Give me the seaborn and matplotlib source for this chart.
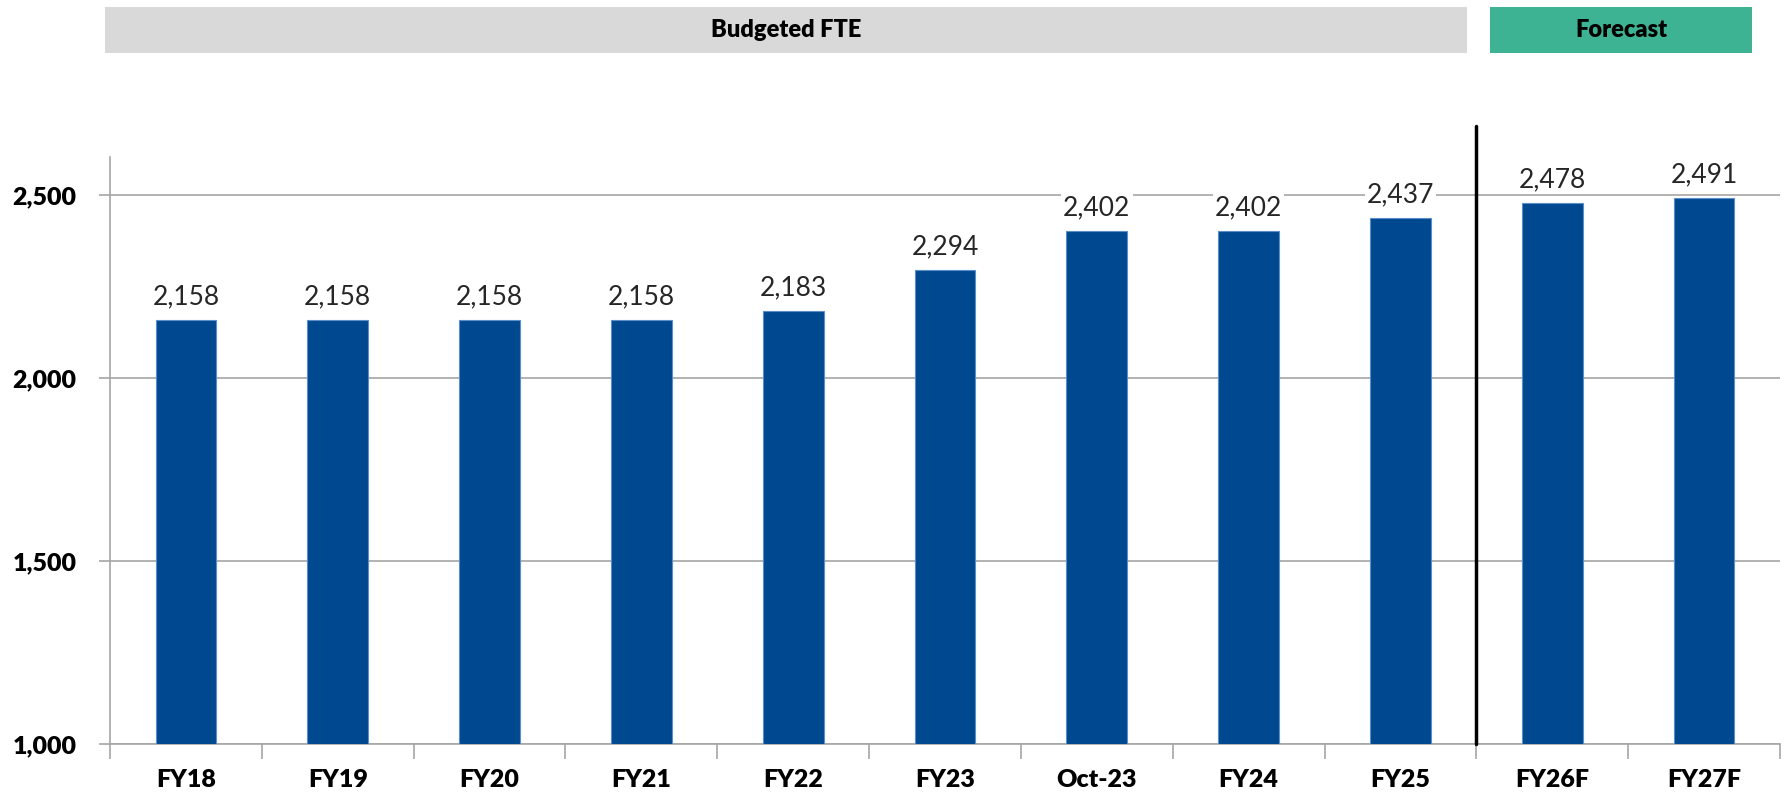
import numpy as np
import pandas as pd
import seaborn as sns
import matplotlib.pyplot as plt
from matplotlib.patches import Rectangle
from matplotlib.ticker import FuncFormatter, FixedLocator

# chart data
categories = ["FY18", "FY19", "FY20", "FY21", "FY22", "FY23", "Oct-23",
              "FY24", "FY25", "FY26F", "FY27F"]
fte_values = [2158, 2158, 2158, 2158, 2183, 2294, 2402, 2402, 2437, 2478, 2491]
header_labels = ["Budgeted FTE", "Forecast"]

BAR_COLOR = "#004990"
GRID_COLOR = "#A6A6A6"
HEADER_GREY = "#D9D9D9"
HEADER_GREEN = "#3EB393"

sns.set_theme(style="white")
plt.rcParams["font.family"] = ["Lato", "DejaVu Sans"]

df = pd.DataFrame({"period": categories, "fte": fte_values})

fig = plt.figure(figsize=(17.84, 7.99), dpi=100)
ax = fig.add_axes([110 / 1784, 55 / 799, 1670 / 1784, 587 / 799])

sns.barplot(data=df, x="period", y="fte", color=BAR_COLOR, width=0.4,
            saturation=1, edgecolor="#5B8DC9", linewidth=0.8, ax=ax, zorder=3)

ax.set_ylim(1000, 2604)
ax.set_xlim(-0.5, len(categories) - 0.5)
ax.set_yticks([1000, 1500, 2000, 2500])
ax.yaxis.set_major_formatter(FuncFormatter(lambda v, p: f"{int(v):,}"))
ax.grid(axis="y", color=GRID_COLOR, linewidth=1.2, zorder=0)
ax.set_axisbelow(True)
ax.set_xlabel("")
ax.set_ylabel("")

for side in ["top", "right"]:
    ax.spines[side].set_visible(False)
for side in ["left", "bottom"]:
    ax.spines[side].set_color(GRID_COLOR)
    ax.spines[side].set_linewidth(1.2)

# category boundary ticks on x axis
ax.xaxis.set_minor_locator(FixedLocator(np.arange(-0.5, len(categories), 1.0)))
ax.tick_params(axis="x", which="major", length=0, pad=18)
ax.tick_params(axis="x", which="minor", length=11, width=1.2, color=GRID_COLOR,
               direction="out", bottom=True)
ax.tick_params(axis="y", length=8, width=1.2, color=GRID_COLOR, direction="out",
               left=True, pad=16)
for lbl in ax.get_xticklabels() + ax.get_yticklabels():
    lbl.set_fontweight("heavy")
    lbl.set_fontsize(18)
    lbl.set_color("black")

# value labels
ax.bar_label(ax.containers[0], labels=[f"{v:,}" for v in fte_values],
             padding=8, fontsize=19,
             bbox=dict(facecolor="white", edgecolor="none", pad=1.5), zorder=4)

# separator between actual and forecast
ax.axvline(8.5, ymin=0, ymax=1.052, color="black", linewidth=2.5,
           clip_on=False, zorder=5)

# header boxes
header_boxes = [(105, 1467, HEADER_GREY), (1490, 1752, HEADER_GREEN)]
for (x0, x1, col), text in zip(header_boxes, header_labels):
    fig.patches.append(Rectangle((x0 / 1784, 1 - 53 / 799), (x1 - x0) / 1784,
                                 46 / 799, transform=fig.transFigure,
                                 facecolor=col, edgecolor="none"))
    fig.text((x0 + x1) / 2 / 1784, 1 - 30 / 799, text, ha="center",
             va="center", fontsize=17, fontweight="heavy", color="black")

fig.savefig("out.png", dpi=100)
